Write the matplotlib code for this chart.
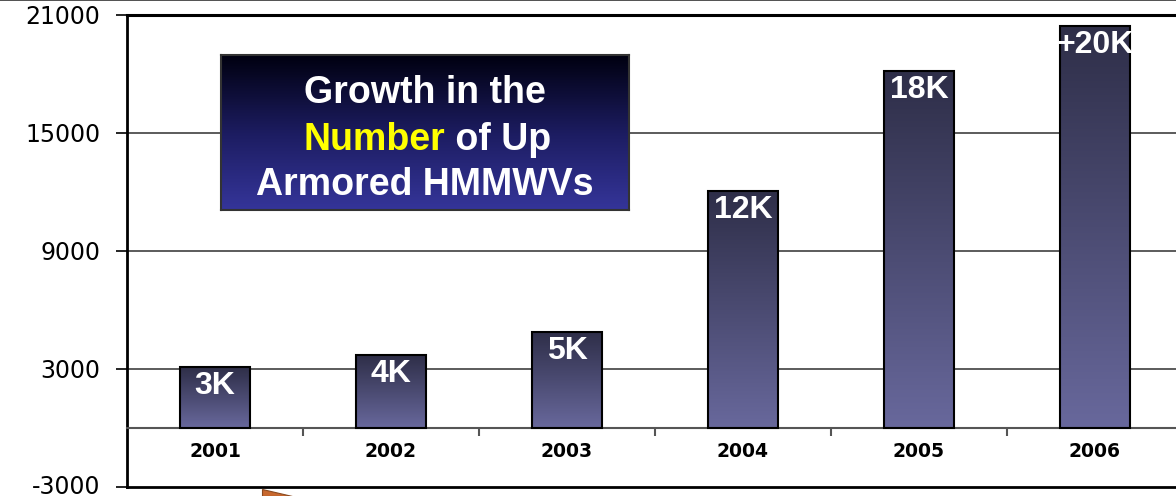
import numpy as np
import matplotlib
matplotlib.use("Agg")
import matplotlib.pyplot as plt
import matplotlib.transforms as mtransforms
from matplotlib.colors import LinearSegmentedColormap
from matplotlib.lines import Line2D
from matplotlib.patches import Polygon

years = ["2001", "2002", "2003", "2004", "2005", "2006"]
counts = [3100, 3700, 4900, 12050, 18150, 20450]
bar_labels = ["3K", "4K", "5K", "12K", "18K", "+20K"]
yticks = [-3000, 3000, 9000, 15000, 21000]

bar_cmap = LinearSegmentedColormap.from_list("bar", ["#68689c", "#2e2e48"])
box_cmap = LinearSegmentedColormap.from_list("box", ["#35359a", "#1c1c60", "#000010"])

fig = plt.figure(figsize=(11.76, 4.96), dpi=100)
ax = fig.add_axes([127 / 1176, 9 / 496, 1056 / 1176, 472 / 496])

x = np.arange(len(years))
width = 0.40
grad = np.linspace(0, 1, 256).reshape(-1, 1)
for xi, h in zip(x, counts):
    ax.imshow(grad, cmap=bar_cmap, origin="lower", aspect="auto",
              extent=[xi - width / 2, xi + width / 2, 0, h], zorder=2)
ax.bar(x, counts, width=width, facecolor="none", edgecolor="black", linewidth=1.5, zorder=3)

for xi, h, lab in zip(x, counts, bar_labels):
    ax.annotate(lab, (xi, h), xytext=(0, -19), textcoords="offset pixels",
                ha="center", va="center", color="white", fontsize=23,
                fontweight="bold", family="Liberation Sans", zorder=4)

ax.set_xlim(-0.5, len(years) - 0.5)
ax.set_ylim(yticks[0], yticks[-1])

# grid lines
for yv in yticks[1:-1]:
    ax.axhline(yv, color="#404040", linewidth=1.2, zorder=1)
ax.axhline(yticks[0], color="black", linewidth=2, clip_on=False, zorder=5)

ax.spines["right"].set_visible(False)
ax.spines["left"].set_linewidth(2)
ax.spines["top"].set_linewidth(2.2)
ax.spines["bottom"].set_position(("data", 0))
ax.spines["bottom"].set_color("#555555")
ax.spines["bottom"].set_linewidth(1.5)

ax.set_yticks(yticks)
ax.set_yticklabels([str(v) for v in yticks], fontsize=17, family="DejaVu Sans")
ax.tick_params(axis="y", length=8, width=1.2, pad=11, direction="out")
# keep the lowest label inside the picture
low = ax.get_yticklabels()[0]
low.set_transform(low.get_transform() + mtransforms.ScaledTranslation(0, 3 / 100, fig.dpi_scale_trans))

ax.set_xticks(x)
ax.set_xticklabels(years, fontsize=13.5, fontweight="bold", family="DejaVu Sans")
ax.set_xticks(x[:-1] + 0.5, minor=True)
ax.tick_params(axis="x", which="major", length=0, pad=10)
ax.tick_params(axis="x", which="minor", length=6, width=1.5, color="#555555", direction="out")

# title box
bax = fig.add_axes([221 / 1176, 1 - 210 / 496, 408 / 1176, 155 / 496])
bax.imshow(grad, cmap=box_cmap, origin="lower", aspect="auto", extent=[0, 1, 0, 1])
bax.set_xlim(0, 1)
bax.set_ylim(0, 1)
bax.set_xticks([])
bax.set_yticks([])
for s in bax.spines.values():
    s.set_color("#333333")
    s.set_linewidth(1.5)
tkw = dict(fontsize=27, fontweight="bold", family="Liberation Sans", va="baseline")
bax.text(0.5, 0.69, "Growth in the", color="white", ha="center", **tkw)
bax.text(0.549, 0.387, "Number", color="#ffff00", ha="right", **tkw)
bax.text(0.549, 0.387, " of Up", color="white", ha="left", **tkw)
bax.text(0.5, 0.097, "Armored HMMWVs", color="white", ha="center", **tkw)

# slide decorations
fig.add_artist(Line2D([0, 1], [0.999, 0.999], color="#333333", linewidth=1.2,
                      transform=fig.transFigure))
fig.add_artist(Polygon([[262 / 1176, 1 - 489 / 496], [262 / 1176, 0], [292 / 1176, 0]],
                       closed=True, facecolor="#c8682e", edgecolor="#8a4a20",
                       linewidth=0.8, transform=fig.transFigure))

fig.savefig("out.png", dpi=100)
